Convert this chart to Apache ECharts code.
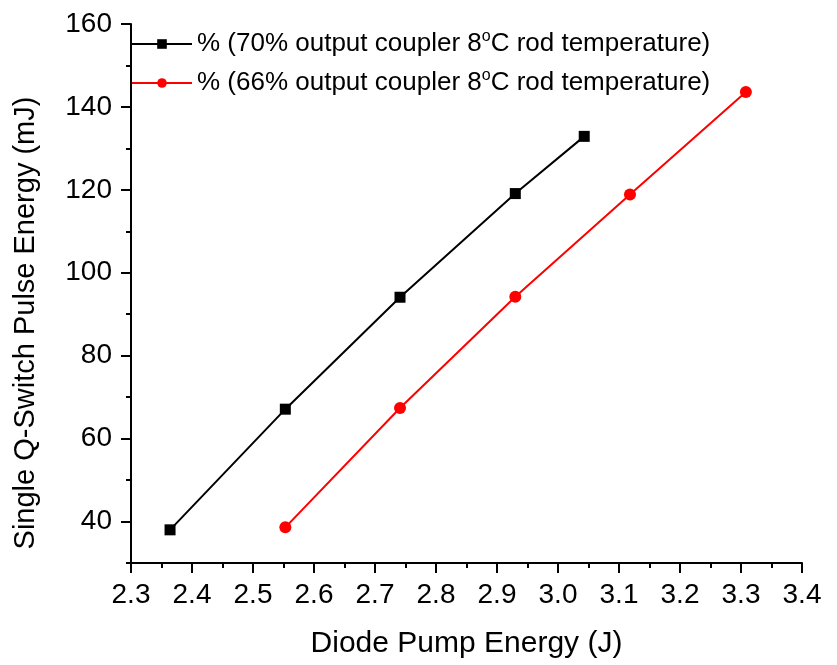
<!DOCTYPE html>
<html>
<head>
<meta charset="utf-8">
<script src="https://cdn.jsdelivr.net/npm/echarts@6/dist/echarts.min.js"></script>
<style>
html,body{margin:0;padding:0;background:#fff;}
#chart{width:837px;height:665px;}
</style>
</head>
<body>
<div id="chart"></div>
<script>
// Data
const seriesNames = ['70% output coupler', '66% output coupler'];
const legendLabels = [
  '% (70% output coupler 8{sup|o}C rod temperature)',
  '% (66% output coupler 8{sup|o}C rod temperature)'
];
const pump70 = [2.364, 2.553, 2.741, 2.930, 3.043];
const energy70 = [38.0, 67.1, 94.1, 119.1, 132.9];
const pump66 = [2.553, 2.741, 2.930, 3.118, 3.308];
const energy66 = [38.6, 67.4, 94.2, 118.9, 143.6];
const yMajorTicks = [40, 60, 80, 100, 120, 140, 160];
const xTitle = 'Diode Pump Energy (J)';
const yTitle = 'Single Q-Switch Pulse Energy (mJ)';

const FONT = '"Liberation Sans", Arial, sans-serif';
const chart = echarts.init(document.getElementById('chart'));

function pairs(xs, ys) { return xs.map((x, i) => [x, ys[i]]); }

const option = {
  backgroundColor: '#ffffff',
  animation: false,
  grid: { left: 131, right: 35, top: 24, bottom: 102, containLabel: false },
  legend: {
    orient: 'vertical',
    left: 126,
    top: 24,
    itemWidth: 60,
    itemHeight: 12,
    itemGap: 9,
    data: seriesNames,
    formatter: function (name) { return legendLabels[seriesNames.indexOf(name)]; },
    textStyle: {
      fontFamily: FONT, fontSize: 26, color: '#000', lineHeight: 30,
      rich: { sup: { fontFamily: FONT, fontSize: 16, lineHeight: 16, verticalAlign: 'top', color: '#000' } }
    }
  },
  xAxis: {
    type: 'value',
    min: 2.3, max: 3.4, interval: 0.1,
    name: xTitle,
    nameLocation: 'middle',
    nameGap: 66,
    nameTextStyle: { fontFamily: FONT, fontSize: 30, color: '#000' },
    axisLine: { show: true, onZero: false, lineStyle: { color: '#000', width: 2 } },
    axisTick: { show: true, inside: false, length: 10, lineStyle: { color: '#000', width: 2 } },
    minorTick: { show: true, splitNumber: 2, length: 5, lineStyle: { color: '#000', width: 2 } },
    axisLabel: {
      margin: 18, fontFamily: FONT, fontSize: 28, color: '#000',
      formatter: v => v.toFixed(1)
    },
    splitLine: { show: false }
  },
  yAxis: [
    {
      type: 'value',
      min: 30, max: 160,
      position: 'left',
      axisLine: { show: true, onZero: false, lineStyle: { color: '#000', width: 2 } },
      axisTick: { show: true, inside: false, length: 10, customValues: yMajorTicks, lineStyle: { color: '#000', width: 2 } },
      axisLabel: {
        margin: 19, fontFamily: FONT, fontSize: 28, color: '#000',
        customValues: yMajorTicks
      },
      splitLine: { show: false }
    },
    {
      type: 'value',
      min: 30, max: 160, interval: 10,
      position: 'left',
      offset: 0,
      axisLine: { show: false, onZero: false },
      axisTick: { show: true, inside: false, length: 5, lineStyle: { color: '#000', width: 2 } },
      axisLabel: { show: false },
      splitLine: { show: false }
    }
  ],
  graphic: [
    {
      type: 'text',
      x: 26, y: 323,
      rotation: Math.PI / 2,
      style: {
        text: yTitle,
        fontFamily: FONT, fontSize: 29, fill: '#000',
        align: 'center', verticalAlign: 'middle'
      }
    }
  ],
  series: [
    {
      name: seriesNames[0],
      type: 'line',
      yAxisIndex: 0,
      data: pairs(pump70, energy70),
      symbol: 'rect',
      symbolSize: 11,
      color: '#000000',
      lineStyle: { color: '#000000', width: 2 },
      itemStyle: { color: '#000000' }
    },
    {
      name: seriesNames[1],
      type: 'line',
      yAxisIndex: 0,
      data: pairs(pump66, energy66),
      symbol: 'circle',
      symbolSize: 12,
      color: '#ff0000',
      lineStyle: { color: '#ff0000', width: 2 },
      itemStyle: { color: '#ff0000' }
    }
  ]
};
chart.setOption(option);
</script>
</body>
</html>
